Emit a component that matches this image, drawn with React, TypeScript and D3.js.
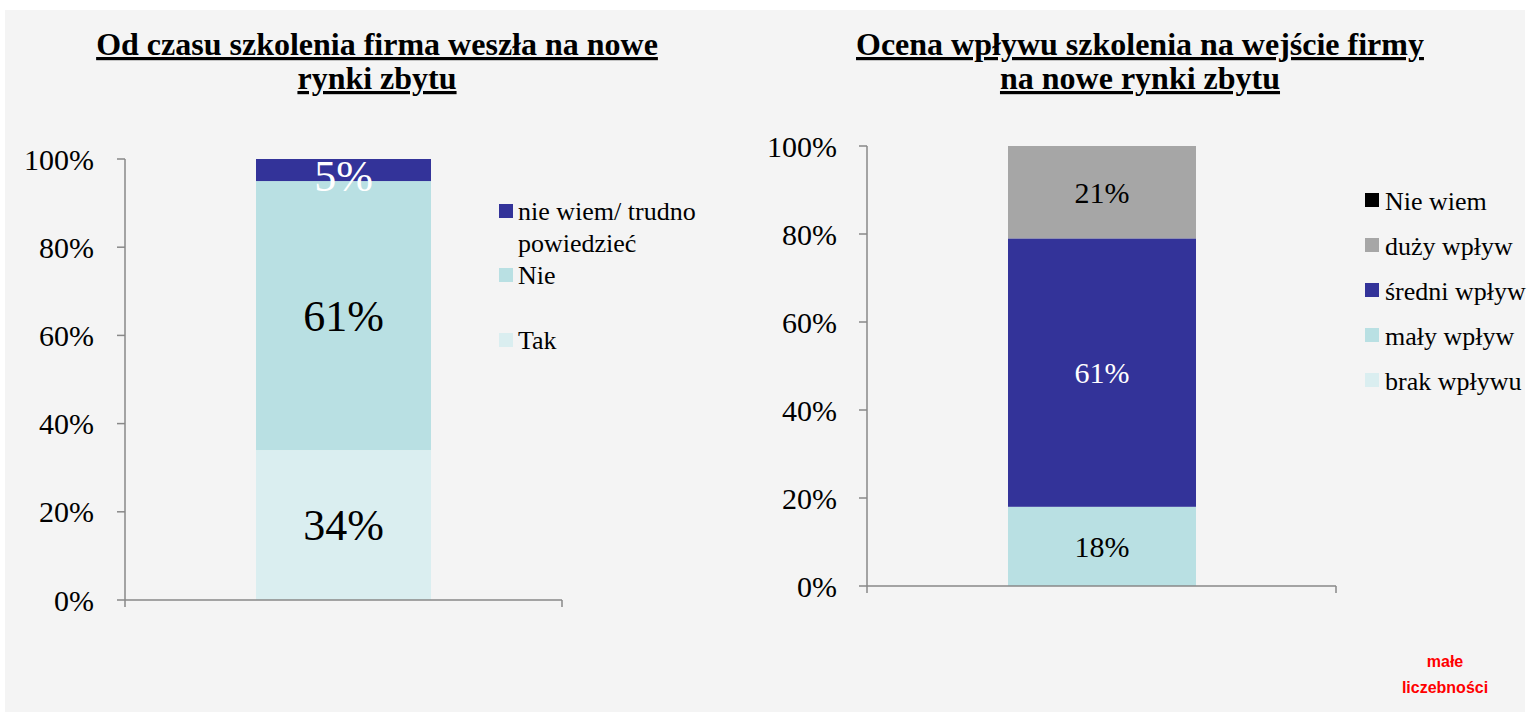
import React from "react";
import * as d3 from "d3";

const leftSeries = ["Tak", "Nie", "nie wiem/ trudno powiedzieć"];
const leftValues = [34, 61, 5];
const leftColors = ["#daeef0", "#b9e0e3", "#333399"];
const leftLabelColors = ["#000", "#000", "#fff"];

const rightSeries = ["brak wpływu", "mały wpływ", "średni wpływ", "duży wpływ", "Nie wiem"];
const rightValues = [0, 18, 61, 21, 0];
const rightColors = ["#daeef0", "#b9e0e3", "#333399", "#a6a6a6", "#000000"];
const rightLabelColors = ["#000", "#000", "#fff", "#000", "#fff"];

const tickValues = [0, 20, 40, 60, 80, 100];

const FONT = "Liberation Serif, Tinos, Times New Roman, Times, DejaVu Serif, serif";

type PanelProps = {
  values: number[];
  colors: string[];
  labelColors: string[];
  axisX: number;
  yTop: number;
  yBottom: number;
  xEnd: number;
  barX0: number;
  barX1: number;
  tickFont: number;
  labelFont: number;
  labelGap: number;
  labelDy?: number[];
};

function Panel(p: PanelProps) {
  const y = d3.scaleLinear().domain([0, 100]).range([p.yBottom, p.yTop]);
  const x = d3.scaleBand().domain(["a"]).range([p.barX0, p.barX1]);
  const stacked: { y0: number; y1: number; v: number; i: number }[] = [];
  let acc = 0;
  p.values.forEach((v, i) => {
    stacked.push({ y0: acc, y1: acc + v, v, i });
    acc += v;
  });
  return (
    <g>
      {stacked.map((s) =>
        s.v > 0 ? (
          <rect
            key={"r" + s.i}
            x={x("a")}
            width={x.bandwidth()}
            y={y(s.y1)}
            height={y(s.y0) - y(s.y1)}
            fill={p.colors[s.i]}
          />
        ) : null
      )}
      <line x1={p.axisX} x2={p.axisX} y1={p.yTop} y2={p.yBottom} stroke="#888" strokeWidth={1.5} />
      <line x1={p.axisX} x2={p.xEnd} y1={p.yBottom} y2={p.yBottom} stroke="#888" strokeWidth={1.5} />
      <line x1={p.xEnd} x2={p.xEnd} y1={p.yBottom} y2={p.yBottom + 7} stroke="#888" strokeWidth={1.5} />
      <line x1={p.axisX} x2={p.axisX} y1={p.yBottom} y2={p.yBottom + 7} stroke="#888" strokeWidth={1.5} />
      {tickValues.map((t) => (
        <g key={"t" + t}>
          <line x1={p.axisX - 8} x2={p.axisX} y1={y(t)} y2={y(t)} stroke="#888" strokeWidth={1.5} />
          <text
            x={p.axisX - p.labelGap}
            y={y(t)}
            dy="0.35em"
            textAnchor="end"
            style={{ fontFamily: FONT }}
            fontSize={p.tickFont}
            fill="#000"
          >
            {t}%
          </text>
        </g>
      ))}
      {stacked.map((s) =>
        s.v > 0 ? (
          <text
            key={"l" + s.i}
            x={(x("a") as number) + x.bandwidth() / 2}
            y={y((s.y0 + s.y1) / 2) + (p.labelDy ? p.labelDy[s.i] : 0)}
            dy="0.35em"
            textAnchor="middle"
            style={{ fontFamily: FONT }}
            fontSize={p.labelFont}
            fill={p.labelColors[s.i]}
          >
            {s.v}%
          </text>
        ) : null
      )}
    </g>
  );
}

export default function App() {
  return (
    <svg width={1529} height={716} style={{ position: "absolute", left: 0, top: 0, fontFamily: FONT }}>
      <rect x={0} y={0} width={1529} height={716} fill="#fff" />
      <rect x={5} y={10} width={1520} height={702} fill="#f4f4f4" />

      <g style={{ fontFamily: FONT }} fontWeight="bold" fontSize={32} textAnchor="middle" textDecoration="underline">
        <text x={377} y={55}>Od czasu szkolenia firma weszła na nowe</text>
        <text x={377} y={89}>rynki zbytu</text>
        <text x={1140} y={55}>Ocena wpływu szkolenia na wejście firmy</text>
        <text x={1140} y={89}>na nowe rynki zbytu</text>
      </g>

      <Panel
        values={leftValues}
        colors={leftColors}
        labelColors={leftLabelColors}
        axisX={125}
        yTop={159}
        yBottom={600}
        xEnd={562}
        barX0={256}
        barX1={431}
        tickFont={30}
        labelFont={44}
        labelGap={31}
        labelDy={[0, 0, 6]}
      />
      <Panel
        values={rightValues}
        colors={rightColors}
        labelColors={rightLabelColors}
        axisX={867}
        yTop={146}
        yBottom={586}
        xEnd={1336}
        barX0={1008}
        barX1={1196}
        tickFont={30}
        labelFont={30}
        labelGap={30}
      />

      <g style={{ fontFamily: FONT }} fontSize={26} fill="#000">
        <rect x={499} y={204} width={14} height={14} fill={leftColors[2]} />
        <text x={518} y={220}>nie wiem/ trudno</text>
        <text x={518} y={252}>powiedzieć</text>
        <rect x={499} y={268} width={14} height={14} fill={leftColors[1]} />
        <text x={518} y={284}>{leftSeries[1]}</text>
        <rect x={499} y={333} width={14} height={14} fill={leftColors[0]} />
        <text x={518} y={349}>{leftSeries[0]}</text>
      </g>

      <g style={{ fontFamily: FONT }} fontSize={26} fill="#000">
        {rightSeries
          .map((s, i) => ({ s, i }))
          .reverse()
          .map((d, k) => (
            <g key={d.s}>
              <rect x={1365} y={193 + k * 45} width={14} height={14} fill={rightColors[d.i]} />
              <text x={1385} y={210 + k * 45}>{d.s}</text>
            </g>
          ))}
      </g>

      <g style={{ fontFamily: "Liberation Sans, Arial, sans-serif" }} fontWeight="bold" fontSize={16} fill="#ff0000" textAnchor="middle">
        <text x={1445} y={667}>małe</text>
        <text x={1445} y={693}>liczebności</text>
      </g>
    </svg>
  );
}
